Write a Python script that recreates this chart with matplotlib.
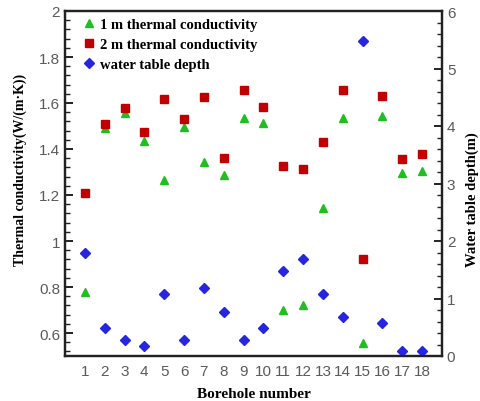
import numpy as np
import matplotlib
matplotlib.use("Agg")
import matplotlib.pyplot as plt
from matplotlib.ticker import MultipleLocator

boreholes = np.arange(1, 19)
k_1m = [0.78, 1.49, 1.555, 1.435, 1.265, 1.495, 1.345, 1.285, 1.535,
        1.515, 0.70, 0.72, 1.145, 1.535, 0.555, 1.545, 1.295, 1.305]
k_2m = [1.21, 1.51, 1.58, 1.476, 1.617, 1.532, 1.625, 1.362, 1.655,
        1.582, 1.325, 1.315, 1.432, 1.655, 0.922, 1.632, 1.355, 1.377]
depth = [1.8, 0.48, 0.27, 0.18, 1.08, 0.27, 1.19, 0.77, 0.27,
         0.48, 1.48, 1.69, 1.08, 0.67, 5.48, 0.57, 0.08, 0.08]

serif = {'family': 'Liberation Serif', 'weight': 'bold'}
tick_col = '#5a5a5a'

fig = plt.figure(figsize=(4.8, 4.02), dpi=100)
ax = fig.add_axes([65/480, 45/402, 377/480, 345/402])
ax2 = ax.twinx()

l1, = ax.plot(boreholes, k_1m, linestyle='none', marker='^', color='#1fbf1f',
              markersize=6, label='1 m thermal conductivity')
l2, = ax.plot(boreholes, k_2m, linestyle='none', marker='s', color='#c00000',
              markersize=5.5, label='2 m thermal conductivity')
l3, = ax2.plot(boreholes, depth, linestyle='none', marker='D', color='#2626e0',
               markersize=4.8, label='water table depth')

ax.set_xlim(0, 19)
ax.set_ylim(0.5, 2.0)
ax2.set_ylim(0, 6)
ax.set_xticks(boreholes)
ax.yaxis.set_major_locator(MultipleLocator(0.2))
ax.yaxis.set_minor_locator(MultipleLocator(0.04))
ax2.yaxis.set_major_locator(MultipleLocator(1))
ax2.yaxis.set_minor_locator(MultipleLocator(0.2))
ax.set_yticks(np.arange(0.6, 2.01, 0.2))
ax.set_yticklabels(['0.6', '0.8', '1', '1.2', '1.4', '1.6', '1.8', '2'])

for a in (ax, ax2):
    for s in a.spines.values():
        s.set_linewidth(1.6)
        s.set_color('#222222')
    a.tick_params(which='major', direction='in', length=6, width=1.4,
                  labelsize=11, labelcolor=tick_col, colors='#222222')
    a.tick_params(which='minor', direction='in', length=3.5, width=1.0,
                  colors='#222222')
    for lab in a.get_yticklabels():
        lab.set_family('Liberation Sans')
ax.tick_params(axis='x', length=0, pad=6)
for lab in ax.get_xticklabels():
    lab.set_family('Liberation Sans')

ax.set_xlabel('Borehole number', fontdict=serif, fontsize=11, labelpad=6)
fig.text(20/480, 1 - 170/402, 'Thermal conductivity(W/(m·K))', rotation=90,
         ha='center', va='center', fontsize=10, **serif)
fig.text(472/480, 1 - 200/402, 'Water table depth(m)', rotation=90,
         ha='center', va='center', fontsize=10.5, **serif)

ax.legend(handles=[l1, l2, l3], loc='upper left', frameon=False,
          prop={'family': 'Liberation Serif', 'weight': 'bold', 'size': 10.5},
          handletextpad=0.2, labelspacing=0.45, borderaxespad=0.1,
          handlelength=1.2, bbox_to_anchor=(0.02, 1.0))

fig.savefig('out.png', dpi=100)
